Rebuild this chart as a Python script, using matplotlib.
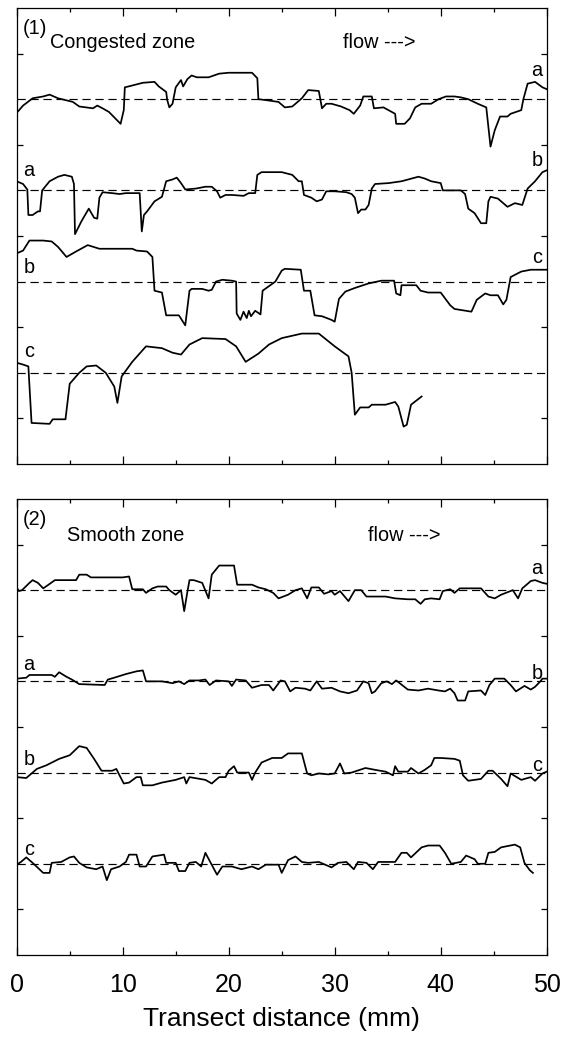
import matplotlib
matplotlib.use("Agg")
import matplotlib.pyplot as plt
import numpy as np

plt.rcParams['font.family'] = ['Liberation Sans', 'DejaVu Sans']

# ---- data: (distance mm, relative height) ----
p1_top = [(0.0,-0.15),(0.6,-0.07),(1.5,0.01),(2.5,0.03),(3.1,0.05),(3.9,0.01),(5.3,-0.03),
          (5.9,-0.08),(7.2,-0.10),(7.6,-0.07),(8.1,-0.10),(8.7,-0.14),(9.8,-0.27),(10.1,-0.12),
          (10.2,0.13),(10.9,0.15),(11.9,0.18),(13.0,0.19),(13.4,0.14),(14.1,0.08),(14.2,-0.01),
          (14.4,-0.09),(14.7,-0.05),(15.0,0.13),(15.5,0.21),(15.7,0.14),(16.1,0.22),(16.5,0.26),
          (17.0,0.24),(18.1,0.24),(19.1,0.28),(20.0,0.29),(22.2,0.29),(22.7,0.23),(22.8,0.00),
          (23.5,-0.01),(24.7,-0.03),(25.3,-0.09),(26.0,-0.08),(26.9,0.01),(27.5,0.10),(28.5,0.09),
          (28.8,-0.10),(29.2,-0.05),(29.7,-0.05),(30.6,-0.08),(31.4,-0.12),(31.8,-0.16),(32.4,-0.07),
          (32.7,0.03),(33.5,0.03),(33.7,-0.10),(34.6,-0.09),(35.7,-0.16),(35.8,-0.27),(36.6,-0.27),
          (37.1,-0.21),(37.6,-0.09),(38.2,-0.05),(39.1,-0.05),(39.8,0.00),(40.5,0.03),(41.3,0.03),
          (41.9,0.02),(42.6,0.00),(43.5,-0.05),(44.3,-0.09),(44.7,-0.52),(45.1,-0.34),(45.6,-0.19),
          (46.3,-0.19),(46.6,-0.16),(47.6,-0.12),(47.8,0.00),(48.2,0.17),(48.9,0.19),(49.6,0.13),(50.0,0.11)]

p1_a = [(0.0,0.10),(0.6,0.07),(1.0,0.01),(1.1,-0.27),(1.5,-0.27),(2.0,-0.23),(2.2,-0.23),(2.4,0.00),
        (3.1,0.10),(3.9,0.15),(4.5,0.17),(5.2,0.15),(5.4,0.07),(5.5,-0.48),(6.1,-0.34),(6.8,-0.20),
        (7.3,-0.30),(7.6,-0.31),(7.8,-0.08),(8.1,-0.02),(9.0,-0.03),(9.7,-0.04),(10.3,-0.03),
        (11.6,-0.03),(11.8,-0.45),(12.0,-0.27),(12.3,-0.23),(13.0,-0.12),(13.7,-0.07),(14.1,0.10),
        (14.7,0.12),(15.1,0.14),(15.5,0.08),(15.9,0.01),(16.9,0.02),(17.8,0.04),(18.4,0.04),
        (18.9,-0.01),(19.2,-0.08),(19.7,-0.05),(20.3,-0.05),(21.4,-0.06),(21.9,-0.03),(22.5,-0.03),
        (22.7,0.17),(23.1,0.20),(25.0,0.20),(26.0,0.17),(26.6,0.10),(26.9,0.10),(27.1,-0.05),
        (27.8,-0.08),(28.3,-0.12),(28.8,-0.10),(29.2,-0.01),(30.0,-0.01),(31.1,-0.02),(31.6,-0.04),
        (31.9,-0.08),(32.2,-0.25),(32.5,-0.21),(32.9,-0.21),(33.2,-0.16),(33.5,0.02),(33.8,0.07),
        (35.1,0.08),(36.3,0.10),(37.9,0.15),(38.5,0.13),(39.1,0.10),(40.0,0.08),(40.2,0.00),
        (41.9,0.00),(42.3,-0.04),(42.6,-0.20),(43.2,-0.25),(43.8,-0.36),(44.3,-0.36),(44.5,-0.12),
        (44.7,-0.07),(45.4,-0.09),(46.3,-0.18),(47.0,-0.14),(47.7,-0.16),(48.2,0.02),(48.9,0.10),
        (49.6,0.20),(50.0,0.22)]

p1_b = [(0.0,0.31),(0.6,0.34),(1.2,0.45),(2.5,0.45),(3.3,0.44),(3.9,0.38),(4.7,0.27),(5.6,0.33),
        (6.7,0.40),(7.8,0.36),(10.9,0.36),(11.3,0.34),(12.3,0.33),(12.8,0.27),(13.0,-0.10),
        (13.7,-0.12),(14.1,-0.37),(15.3,-0.37),(15.9,-0.48),(16.3,-0.10),(16.5,-0.08),(17.5,-0.08),
        (18.1,-0.10),(18.4,-0.09),(18.8,0.00),(19.4,0.02),(20.3,0.01),(20.7,0.00),(20.75,-0.35),
        (21.1,-0.42),(21.4,-0.33),(21.7,-0.40),(21.9,-0.32),(22.1,-0.38),(22.5,-0.32),(23.0,-0.36),
        (23.2,-0.10),(23.8,-0.05),(24.4,0.00),(25.0,0.12),(25.3,0.14),(26.8,0.13),(27.1,-0.10),
        (27.7,-0.10),(28.1,-0.37),(28.8,-0.38),(29.7,-0.42),(30.0,-0.44),(30.4,-0.19),(31.0,-0.11),
        (31.9,-0.07),(33.2,-0.02),(34.4,0.01),(35.6,0.01),(35.8,-0.13),(36.2,-0.15),(36.3,-0.04),
        (37.7,-0.04),(38.1,-0.10),(38.8,-0.12),(40.0,-0.12),(40.9,-0.26),(41.3,-0.30),(42.9,-0.33),
        (43.4,-0.20),(44.2,-0.13),(44.7,-0.15),(45.4,-0.15),(45.9,-0.25),(46.2,-0.20),(46.6,0.05),
        (47.6,0.11),(48.5,0.13),(50.0,0.13)]

p1_c = [(0.0,0.11),(0.6,0.09),(1.1,0.07),(1.4,-0.55),(3.1,-0.56),(3.4,-0.51),(4.6,-0.51),(5.0,-0.12),
        (5.9,0.00),(6.6,0.07),(7.5,0.08),(8.4,0.00),(9.2,-0.15),(9.5,-0.33),(9.9,-0.04),(10.9,0.12),
        (12.2,0.29),(13.7,0.27),(14.7,0.22),(15.5,0.20),(16.3,0.31),(17.5,0.38),(19.7,0.37),
        (20.7,0.29),(21.6,0.12),(22.8,0.21),(23.8,0.31),(25.0,0.38),(26.9,0.43),(28.5,0.43),
        (30.0,0.29),(31.3,0.18),(31.6,0.00),(31.9,-0.46),(32.4,-0.38),(33.2,-0.38),(33.5,-0.35),
        (34.8,-0.35),(35.7,-0.32),(36.0,-0.37),(36.5,-0.59),(36.8,-0.57),(37.2,-0.35),(38.2,-0.26)]

p2_top = [(0.0,0.03),(0.2,-0.01),(0.5,0.00),(1.2,0.08),(1.5,0.11),(2.0,0.08),(2.5,0.02),(3.0,0.06),
          (3.6,0.11),(5.6,0.11),(5.9,0.17),(6.6,0.17),(7.0,0.14),(10.0,0.14),(10.6,0.15),(10.9,0.01),
          (11.9,0.01),(12.2,-0.03),(12.8,0.02),(13.3,0.04),(14.1,0.04),(14.4,0.00),(15.0,-0.05),
          (15.5,0.00),(15.8,-0.23),(16.1,-0.02),(16.3,0.11),(16.7,0.11),(17.5,0.08),(18.1,-0.09),
          (18.4,0.17),(19.1,0.27),(20.5,0.27),(20.8,0.06),(22.2,0.06),(22.8,0.03),(23.5,0.01),
          (24.2,-0.03),(24.7,-0.09),(25.6,-0.05),(26.3,0.00),(26.9,0.02),(27.4,-0.09),(27.8,0.03),
          (28.5,0.03),(29.0,-0.04),(29.7,-0.01),(30.0,-0.05),(30.5,-0.01),(31.3,-0.12),(31.9,0.00),
          (32.5,0.00),(33.0,-0.07),(34.8,-0.07),(35.7,-0.09),(36.9,-0.10),(37.6,-0.10),(38.1,-0.15),
          (38.5,-0.10),(39.1,-0.09),(39.9,-0.10),(40.2,-0.01),(40.9,0.01),(41.3,-0.03),(41.8,0.02),
          (43.8,0.02),(44.5,-0.07),(45.1,-0.09),(45.7,-0.05),(46.8,0.00),(47.3,-0.09),(47.7,0.02),
          (48.5,0.10),(48.9,0.11),(49.6,0.08),(50.0,0.07)]

p2_a = [(0.0,0.03),(0.9,0.04),(1.2,0.07),(3.3,0.07),(3.6,0.05),(4.0,0.10),(4.7,0.05),(5.2,0.02),
        (5.9,-0.03),(8.3,-0.04),(8.6,0.02),(9.2,0.04),(10.3,0.08),(11.3,0.11),(11.9,0.12),(12.2,0.00),
        (13.7,0.00),(14.7,-0.02),(15.3,0.00),(15.8,-0.03),(16.3,0.01),(17.2,0.01),(17.8,0.02),
        (18.2,-0.04),(18.8,0.01),(20.0,0.00),(20.3,-0.05),(20.7,0.02),(21.6,0.01),(22.2,-0.07),
        (23.1,-0.04),(23.8,-0.04),(24.2,-0.10),(24.9,0.01),(25.3,0.00),(25.8,-0.11),(26.3,-0.07),
        (27.2,-0.08),(27.7,-0.10),(28.3,0.00),(28.8,-0.08),(29.7,-0.07),(30.5,-0.11),(31.3,-0.13),
        (32.1,-0.10),(32.7,0.00),(33.2,-0.02),(33.5,-0.13),(33.8,-0.11),(34.4,-0.02),(34.9,0.00),
        (35.4,-0.03),(35.8,0.01),(36.9,-0.09),(37.9,-0.10),(38.8,-0.08),(39.8,-0.10),(40.4,-0.11),
        (40.9,-0.08),(41.3,-0.13),(41.6,-0.21),(42.3,-0.21),(42.6,-0.11),(43.8,-0.10),(44.2,-0.15),
        (44.6,-0.04),(45.1,0.03),(46.0,0.03),(46.6,-0.04),(47.1,-0.11),(47.9,-0.05),(48.5,-0.09),
        (48.9,-0.06),(49.4,0.00),(49.6,0.03),(50.0,0.03)]

p2_b = [(0.0,-0.05),(0.9,-0.06),(1.2,-0.03),(1.9,0.04),(2.8,0.08),(4.0,0.15),(5.0,0.19),(5.9,0.29),
        (6.6,0.27),(7.3,0.15),(8.0,0.02),(9.0,0.02),(9.4,0.04),(9.7,-0.03),(10.1,-0.12),(10.6,-0.11),
        (11.3,-0.05),(11.7,-0.05),(11.9,-0.14),(12.8,-0.14),(13.7,-0.11),(15.0,-0.08),(15.8,-0.05),
        (16.0,-0.12),(16.3,-0.05),(17.8,-0.08),(18.4,-0.12),(19.1,-0.05),(19.7,-0.05),(20.0,0.02),
        (20.5,0.07),(20.8,0.00),(21.9,0.00),(22.2,-0.08),(22.5,0.00),(23.1,0.11),(24.1,0.16),
        (25.0,0.16),(25.6,0.21),(26.9,0.21),(27.4,-0.01),(27.8,-0.03),(28.5,-0.01),(29.4,-0.02),
        (30.0,-0.01),(30.5,0.10),(30.9,-0.01),(31.6,0.00),(32.9,0.05),(33.8,0.03),(34.8,0.01),
        (35.5,-0.03),(35.7,0.07),(36.0,0.01),(36.9,0.01),(37.2,0.05),(37.9,-0.01),(38.5,0.03),
        (39.1,0.08),(39.4,0.16),(40.0,0.16),(41.3,0.15),(41.8,0.13),(42.1,-0.03),(42.6,-0.09),
        (43.8,-0.07),(44.5,0.02),(44.9,0.02),(45.7,-0.07),(46.3,-0.15),(46.6,-0.01),(47.6,-0.08),
        (48.5,-0.05),(48.9,-0.09),(49.6,-0.01),(50.0,0.01)]

p2_c = [(0.0,-0.01),(0.4,0.02),(0.9,0.07),(1.5,0.01),(2.5,-0.10),(3.1,-0.10),(3.3,0.01),(4.2,0.02),
        (5.0,0.07),(5.4,0.08),(5.9,0.01),(6.6,-0.04),(7.5,-0.06),(8.1,-0.03),(8.5,-0.18),(8.9,-0.06),
        (9.7,-0.03),(10.3,0.02),(10.6,0.10),(11.3,0.10),(11.6,-0.03),(12.2,-0.03),(12.8,0.08),
        (13.9,0.10),(14.1,0.01),(15.0,0.01),(15.3,-0.08),(15.9,-0.08),(16.3,0.01),(16.9,0.02),
        (17.4,-0.03),(17.8,0.12),(18.3,0.01),(18.9,-0.12),(19.4,-0.03),(20.3,-0.03),(21.2,-0.06),
        (22.2,-0.03),(22.8,-0.06),(23.5,-0.01),(24.7,-0.01),(25.0,-0.10),(25.6,0.04),(26.3,0.08),
        (26.9,0.02),(27.5,0.01),(28.5,0.02),(29.7,-0.04),(30.3,0.01),(31.1,0.02),(31.8,-0.06),
        (32.2,0.02),(33.0,0.01),(33.6,-0.06),(34.1,0.02),(35.7,0.02),(36.3,0.12),(36.8,0.12),
        (37.2,0.07),(38.2,0.18),(38.8,0.20),(39.9,0.20),(40.4,0.12),(41.0,0.00),(41.9,0.02),
        (42.4,0.09),(43.2,0.05),(43.5,0.00),(44.2,0.00),(44.5,0.12),(45.1,0.13),(45.7,0.18),
        (47.0,0.21),(47.5,0.18),(47.9,0.01),(48.4,-0.07),(48.7,-0.10)]

baselines = [4, 3, 2, 1]
panel1_traces = [p1_top, p1_a, p1_b, p1_c]
panel2_traces = [p2_top, p2_a, p2_b, p2_c]
right_labels = ["a", "b", "c"]
left_labels = ["a", "b", "c"]
x_ticks = [0, 10, 20, 30, 40, 50]

fig = plt.figure(figsize=(5.61, 10.38), dpi=100)
ax1 = fig.add_axes([0.0298, 0.553, 0.9447, 0.4393])
ax2 = fig.add_axes([0.0298, 0.0800, 0.9447, 0.4393])

def draw_panel(ax, traces, num, zone, right_y, left_y, right_x=49.1):
    for tr, base in zip(traces, baselines):
        xs = np.array([p[0] for p in tr])
        ys = np.array([p[1] for p in tr]) + base
        ax.plot([0, 50], [base, base], color='black', lw=0.85, dashes=(7, 4))
        ax.plot(xs, ys, color='black', lw=1.25)
    ax.set_xlim(0, 50)
    ax.set_ylim(0, 5)
    ax.set_xticks(x_ticks)
    ax.set_xticks([5, 15, 25, 35, 45], minor=True)
    ax.set_yticks([0.5, 1.5, 2.5, 3.5, 4.5])
    ax.set_yticklabels([])
    ax.tick_params(which='both', direction='in', top=True, right=True, width=0.9)
    ax.tick_params(which='major', length=6)
    ax.tick_params(which='minor', length=3)
    ax.tick_params(axis='y', length=4)
    for s in ax.spines.values():
        s.set_linewidth(0.9)
    fs = 14.3
    ax.text(0.6, 4.78, num, fontsize=fs, ha='left', va='center')
    ax.text(zone[1], zone[2], zone[0], fontsize=fs, ha='left', va='center')
    ax.text(zone[3], zone[2], "flow --->", fontsize=fs, ha='left', va='center')
    for lab, yy in zip(right_labels, right_y):
        ax.text(right_x, yy, lab, fontsize=fs, ha='center', va='center')
    for lab, yy in zip(left_labels, left_y):
        ax.text(1.15, yy, lab, fontsize=fs, ha='center', va='center')

draw_panel(ax1, panel1_traces, "(1)", ("Congested zone", 3.1, 4.62, 30.8),
           [4.32, 3.33, 2.26], [3.22, 2.15, 1.23])
draw_panel(ax2, panel2_traces, "(2)", ("Smooth zone", 4.75, 4.60, 33.1),
           [4.24, 3.09, 2.08], [3.19, 2.14, 1.16])

ax1.set_xticklabels([])
ax2.set_xticklabels([str(t) for t in x_ticks], fontsize=18)
ax2.tick_params(axis='x', which='major', pad=13)
ax2.set_xlabel("Transect distance (mm)", fontsize=19, labelpad=7)

fig.savefig("out.png", dpi=100)
